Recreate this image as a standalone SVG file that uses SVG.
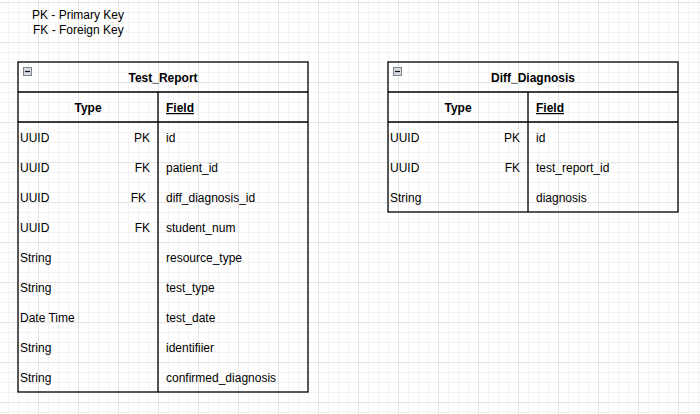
<svg xmlns="http://www.w3.org/2000/svg" width="700" height="414" viewBox="0 0 700 414">
<defs>
<pattern id="grid" x="-2" y="2" width="40" height="40" patternUnits="userSpaceOnUse">
<path d="M10.5 0V40M20.5 0V40M30.5 0V40M0 10.5H40M0 20.5H40M0 30.5H40" stroke="#f3f3f3" stroke-width="1" fill="none"/>
<path d="M0.5 0V40M0 0.5H40" stroke="#e3e3e3" stroke-width="1" fill="none"/>
</pattern>
<g id="minus">
<rect x="0.5" y="0.5" width="8" height="8" fill="#d6dae0" stroke="#7d8591" stroke-width="1"/>
<path d="M2 4.5H7" stroke="#111" stroke-width="1.2"/>
</g>
</defs>
<style>
text{font-family:"Liberation Sans",Arial,sans-serif;font-size:12px;fill:#000}
.b{font-weight:bold}
.m{text-anchor:middle}
.e{text-anchor:end}
.u{text-decoration:underline}
.ln{stroke:#000;stroke-width:1.3;fill:none}
</style>
<rect width="700" height="414" fill="#fff"/>
<rect width="700" height="414" fill="url(#grid)"/>
<g id="legend">
<text x="32" y="19">PK - Primary Key</text>
<text x="33" y="34">FK - Foreign Key</text>
</g>
<g id="test_report">
<rect x="18" y="62" width="290" height="330" fill="#fff" class="ln"/>
<path class="ln" d="M18 92H308M18 122H308M158 92V392"/>
<use href="#minus" x="23" y="67"/>
<text class="b m" x="163" y="82">Test_Report</text>
<text class="b m" x="88" y="112">Type</text>
<text class="b u" x="166" y="112">Field</text>
<text x="20" y="141.5">UUID</text><text class="e" x="150" y="141.5">PK</text><text x="166" y="141.5">id</text>
<text x="20" y="171.5">UUID</text><text class="e" x="150" y="171.5">FK</text><text x="166" y="171.5">patient_id</text>
<text x="20" y="201.5">UUID</text><text class="e" x="146" y="201.5">FK</text><text x="166" y="201.5">diff_diagnosis_id</text>
<text x="20" y="231.5">UUID</text><text class="e" x="150" y="231.5">FK</text><text x="166" y="231.5">student_num</text>
<text x="20" y="261.5">String</text><text x="166" y="261.5">resource_type</text>
<text x="20" y="291.5">String</text><text x="166" y="291.5">test_type</text>
<text x="20" y="321.5">Date Time</text><text x="166" y="321.5">test_date</text>
<text x="20" y="351.5">String</text><text x="166" y="351.5">identifiier</text>
<text x="20" y="381.5">String</text><text x="166" y="381.5">confirmed_diagnosis</text>
</g>
<g id="diff_diagnosis">
<rect x="388" y="62" width="290" height="150" fill="#fff" class="ln"/>
<path class="ln" d="M388 92H678M388 122H678M528 92V212"/>
<use href="#minus" x="393" y="67"/>
<text class="b m" x="533" y="82">Diff_Diagnosis</text>
<text class="b m" x="458" y="112">Type</text>
<text class="b u" x="536" y="112">Field</text>
<text x="390" y="141.5">UUID</text><text class="e" x="520" y="141.5">PK</text><text x="536" y="141.5">id</text>
<text x="390" y="171.5">UUID</text><text class="e" x="520" y="171.5">FK</text><text x="536" y="171.5">test_report_id</text>
<text x="390" y="201.5">String</text><text x="536" y="201.5">diagnosis</text>
</g>
<g id="connectors"/>
</svg>
